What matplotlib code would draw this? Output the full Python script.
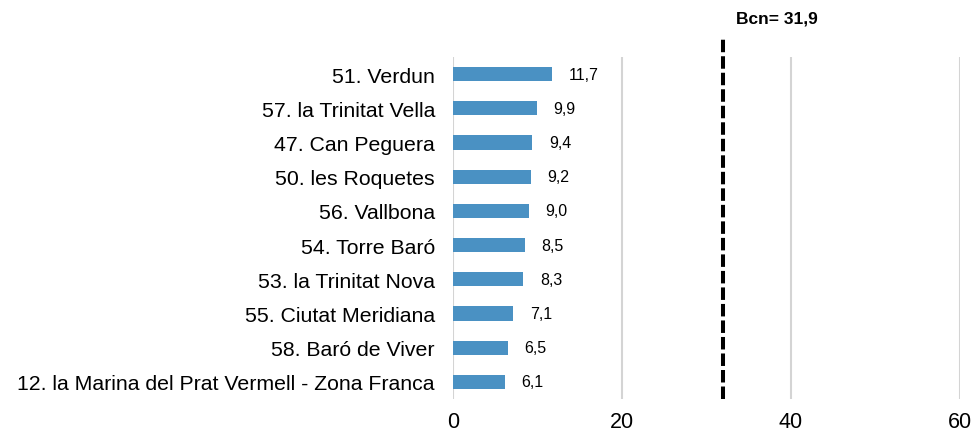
import matplotlib
matplotlib.use("Agg")
import matplotlib.pyplot as plt

categories = [
    "51. Verdun",
    "57. la Trinitat Vella",
    "47. Can Peguera",
    "50. les Roquetes",
    "56. Vallbona",
    "54. Torre Baró",
    "53. la Trinitat Nova",
    "55. Ciutat Meridiana",
    "58. Baró de Viver",
    "12. la Marina del Prat Vermell - Zona Franca",
]
values = [11.7, 9.9, 9.4, 9.2, 9.0, 8.5, 8.3, 7.1, 6.5, 6.1]
bcn_value = 31.9
bcn_label = "Bcn= 31,9"
xticks = [0, 20, 40, 60]

plt.rcParams['font.family'] = ['Liberation Sans', 'DejaVu Sans']

fig = plt.figure(figsize=(9.73, 4.35), dpi=100)
ax = fig.add_axes([0.4656, 0.0805, 0.5210, 0.7862])

ypos = list(range(len(categories)))
ax.barh(ypos, values, height=0.42, color="#4a91c3", zorder=3)
ax.set_ylim(len(categories) - 0.5, -0.5)
ax.set_xlim(0, 60)
ax.set_yticks(ypos)
ax.set_yticklabels(categories, fontsize=15.3)
ax.set_xticks(xticks)
ax.set_xticklabels([str(t) for t in xticks], fontsize=15.5)
ax.tick_params(axis='y', length=0, pad=13)
ax.tick_params(axis='x', length=0, pad=9)
for s in ax.spines.values():
    s.set_visible(False)
ax.grid(axis='x', color="#d4d4d4", linewidth=1.5, zorder=0)

for y, v in zip(ypos, values):
    ax.annotate(f"{v:.1f}".replace(".", ","), xy=(v, y), xytext=(12, 0),
                textcoords="offset points", va="center", ha="left", fontsize=11.5)

ax.plot([bcn_value, bcn_value], [0, 1.058], transform=ax.get_xaxis_transform(),
        color="black", linewidth=2.9, linestyle=(0, (3.1, 1.0)), clip_on=False,
        zorder=4, dash_capstyle="butt")
ax.text(bcn_value + 1.6, 1.114, bcn_label, transform=ax.get_xaxis_transform(),
        ha="left", va="center", fontsize=12.5, fontweight="bold")

fig.savefig("out.png", dpi=100)
